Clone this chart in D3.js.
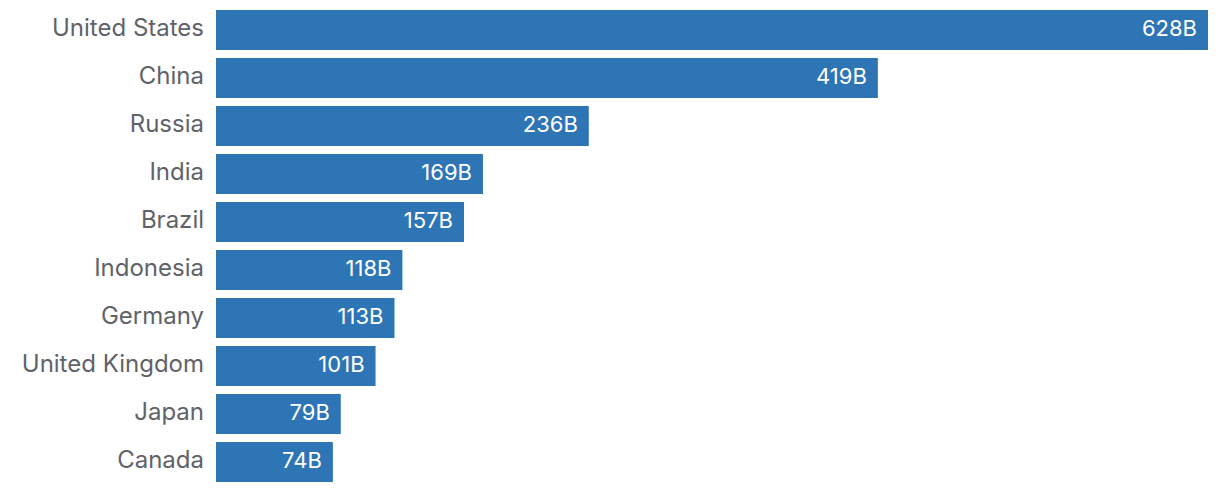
<!DOCTYPE html>
<html><head><meta charset="utf-8">
<script src="https://cdn.jsdelivr.net/npm/d3@7"></script>
<style>body{margin:0;background:#fff}svg{display:block}</style>
</head><body><svg id="c" width="1220" height="492"></svg>
<script>
const countries = ["United States","China","Russia","India","Brazil","Indonesia","Germany","United Kingdom","Japan","Canada"];
const values = [628,419,236,169,157,118,113,101,79,74];
const svg = d3.select("#c");
const W = 1220, H = 492, left = 216, right = 1208;
const x = d3.scaleLinear().domain([0, 628]).range([left, right]);
const y = d3.scaleBand().domain(countries).range([0, H]).paddingInner(1/6).paddingOuter(0.208);
const data = countries.map((c,i)=>({c, v: values[i]}));
svg.selectAll("rect").data(data).join("rect")
  .attr("x", x(0)).attr("y", d=>y(d.c)).attr("width", d=>x(d.v)-x(0)).attr("height", y.bandwidth())
  .attr("fill", "#2E75B6");
svg.selectAll("text.lab").data(data).join("text").attr("class","lab")
  .attr("x", left-12).attr("y", d=>y(d.c)+y.bandwidth()/2).attr("dy","0.25em")
  .attr("text-anchor","end").attr("font-family","Inter, sans-serif").attr("font-size",24)
  .attr("fill","#5f6368").text(d=>d.c);
svg.selectAll("text.val").data(data).join("text").attr("class","val")
  .attr("x", d=>x(d.v)-11).attr("y", d=>y(d.c)+y.bandwidth()/2).attr("dy","0.28em")
  .attr("text-anchor","end").attr("font-family","Inter, sans-serif").attr("font-size",22)
  .attr("fill","#fff").text(d=>d.v+"B");
</script></body></html>
